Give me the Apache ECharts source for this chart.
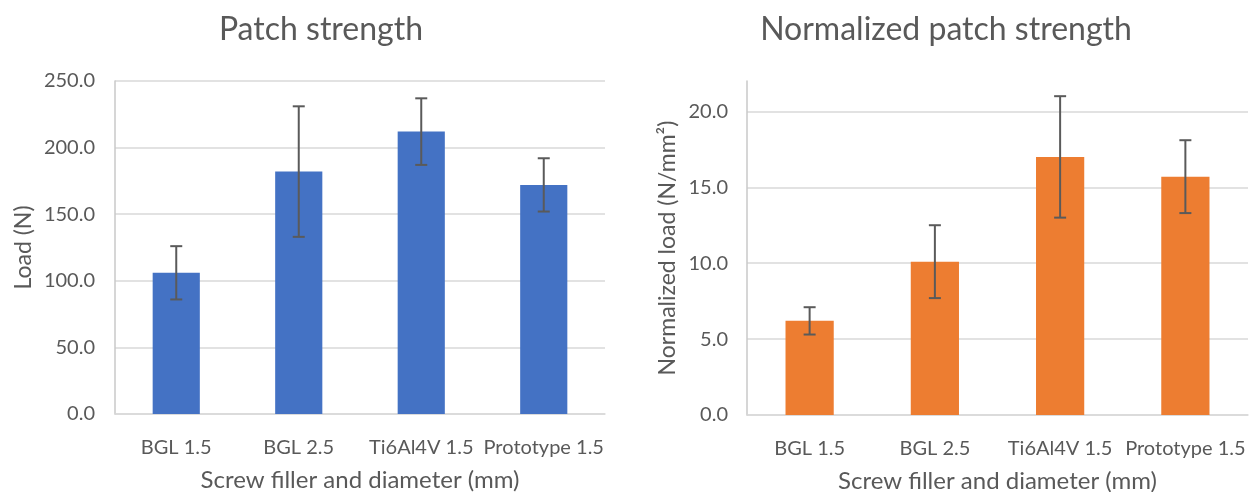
<!DOCTYPE html>
<html>
<head>
<meta charset="utf-8">
<title>Patch strength</title>
<script src="https://cdn.jsdelivr.net/npm/echarts@6/dist/echarts.min.js"></script>
<style>
  html, body { margin: 0; padding: 0; background: #ffffff; }
  #chart { width: 1255px; height: 492px; }
</style>
</head>
<body>
<div id="chart"></div>
<script>
// Screw groups shared by both panels
const categories = ['BGL 1.5', 'BGL 2.5', 'Ti6Al4V 1.5', 'Prototype 1.5'];

// Patch strength: mean load (N) and standard deviation
const loadMean = [106, 182, 212, 172];
const loadSd = [20, 49, 25, 20];

// Normalized patch strength: mean load per area (N/mm²) and standard deviation
const normMean = [6.2, 10.1, 17.0, 15.7];
const normSd = [0.9, 2.4, 4.0, 2.4];

const FONT = 'Lato, "Liberation Sans", sans-serif';
const TEXT = '#595959';
const GRID_LINE = '#d9d9d9';

const chart = echarts.init(document.getElementById('chart'), null, { renderer: 'canvas' });

// Error bar with caps, drawn through the axis scales
function errorBarRenderer(means, sds) {
  return function (params, api) {
    const i = api.value(0);
    const hi = api.coord([i, means[i] + sds[i]]);
    const lo = api.coord([i, means[i] - sds[i]]);
    const cap = 6;
    const style = { stroke: '#5a5a5a', lineWidth: 2 };
    return {
      type: 'group',
      children: [
        { type: 'line', shape: { x1: hi[0], y1: hi[1], x2: lo[0], y2: lo[1] }, style },
        { type: 'line', shape: { x1: hi[0] - cap, y1: hi[1], x2: hi[0] + cap, y2: hi[1] }, style },
        { type: 'line', shape: { x1: lo[0] - cap, y1: lo[1], x2: lo[0] + cap, y2: lo[1] }, style }
      ]
    };
  };
}

function categoryAxis(gridIndex) {
  return {
    type: 'category',
    gridIndex,
    data: categories,
    axisTick: { show: false },
    axisLine: { lineStyle: { color: GRID_LINE, width: 1.5 } },
    axisLabel: { color: TEXT, fontFamily: FONT, fontSize: 20, margin: 24, interval: 0 },
    name: 'Screw filler and diameter (mm)',
    nameLocation: 'middle',
    nameGap: 54,
    nameTextStyle: { color: TEXT, fontFamily: FONT, fontSize: 24 }
  };
}

const option = {
  backgroundColor: '#ffffff',
  animation: false,
  grid: [
    { left: 115, top: 81, width: 490, height: 333, outerBoundsMode: 'none', containLabel: false },
    { left: 747, top: 81, width: 501, height: 334, outerBoundsMode: 'none', containLabel: false }
  ],
  graphic: [
    {
      type: 'text', x: 321, y: 30,
      style: { text: 'Patch strength', align: 'center', verticalAlign: 'middle',
               fill: TEXT, font: '32px ' + FONT }
    },
    {
      type: 'text', x: 946, y: 30,
      style: { text: 'Normalized patch strength', align: 'center', verticalAlign: 'middle',
               fill: TEXT, font: '32px ' + FONT }
    }
  ],
  xAxis: [categoryAxis(0), categoryAxis(1)],
  yAxis: [
    {
      type: 'value',
      gridIndex: 0,
      min: 0, max: 250, interval: 50,
      axisLine: { show: true, lineStyle: { color: '#c8c8c8', width: 1.5 } },
      axisTick: { show: false },
      splitLine: { lineStyle: { color: GRID_LINE, width: 1.5 } },
      axisLabel: { color: TEXT, fontFamily: FONT, fontSize: 20, margin: 20,
                   formatter: v => v.toFixed(1) },
      name: 'Load (N)',
      nameLocation: 'middle',
      nameGap: 80,
      nameTextStyle: { color: TEXT, fontFamily: FONT, fontSize: 23 }
    },
    {
      type: 'value',
      gridIndex: 1,
      min: 0, max: 22, interval: 5,
      axisLine: { show: true, lineStyle: { color: '#c8c8c8', width: 1.5 } },
      axisTick: { show: false },
      splitLine: { showMaxLine: false, lineStyle: { color: GRID_LINE, width: 1.5 } },
      axisLabel: { color: TEXT, fontFamily: FONT, fontSize: 20, margin: 19,
                   showMaxLabel: false, formatter: v => v.toFixed(1) },
      name: 'Normalized load (N/mm²)',
      nameLocation: 'middle',
      nameGap: 68,
      nameTextStyle: { color: TEXT, fontFamily: FONT, fontSize: 23 }
    }
  ],
  series: [
    {
      type: 'bar', xAxisIndex: 0, yAxisIndex: 0,
      data: loadMean, barWidth: '38.5%',
      itemStyle: { color: '#4472c4' }
    },
    {
      type: 'custom', xAxisIndex: 0, yAxisIndex: 0,
      data: categories.map((c, i) => [i, loadMean[i] - loadSd[i], loadMean[i] + loadSd[i]]),
      encode: { x: 0, y: [1, 2] },
      renderItem: errorBarRenderer(loadMean, loadSd),
      z: 5
    },
    {
      type: 'bar', xAxisIndex: 1, yAxisIndex: 1,
      data: normMean, barWidth: '38.5%',
      itemStyle: { color: '#ed7d31' }
    },
    {
      type: 'custom', xAxisIndex: 1, yAxisIndex: 1,
      data: categories.map((c, i) => [i, normMean[i] - normSd[i], normMean[i] + normSd[i]]),
      encode: { x: 0, y: [1, 2] },
      renderItem: errorBarRenderer(normMean, normSd),
      z: 5
    }
  ]
};

chart.setOption(option);
</script>
</body>
</html>
